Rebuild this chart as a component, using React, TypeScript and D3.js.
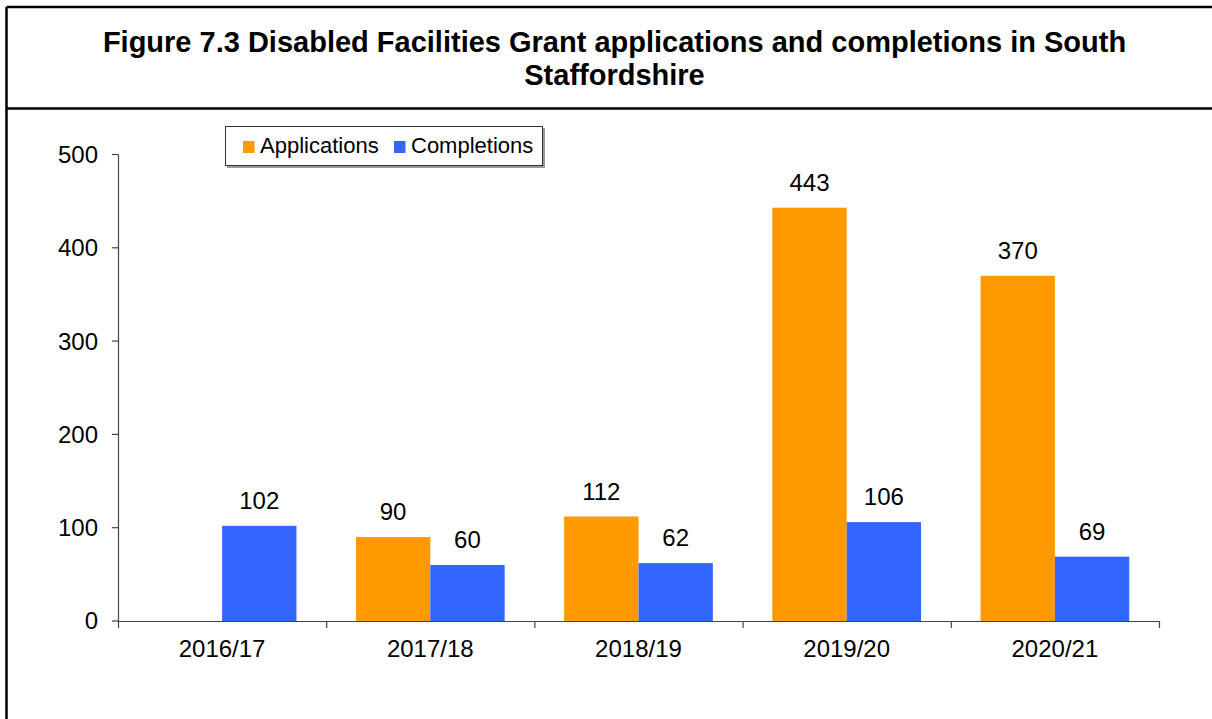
import React from "react";
import * as d3 from "d3";

const categories = ["2016/17", "2017/18", "2018/19", "2019/20", "2020/21"];
const seriesNames = ["Applications", "Completions"];
const applications: (number | null)[] = [null, 90, 112, 443, 370];
const completions: (number | null)[] = [102, 60, 62, 106, 69];
const yTicks = [0, 100, 200, 300, 400, 500];
const colors = ["#FF9900", "#3366FF"];
const titleLines = [
  "Figure 7.3 Disabled Facilities Grant applications and completions in South",
  "Staffordshire",
];

const W = 1212;
const H = 719;
const FONT = "'Liberation Sans', Arial, Helvetica, sans-serif";

export default function App() {
  const x0 = d3.scaleBand<string>().domain(categories).range([118, 1159]).paddingInner(0).paddingOuter(0);
  const x1 = d3.scaleBand<string>().domain(seriesNames).range([0, x0.bandwidth()]).paddingInner(0).paddingOuter(0.4);
  const y = d3.scaleLinear().domain([0, 500]).range([621, 154.5]);
  const values = [applications, completions];
  const axisColor = "#444";
  const boundaries = categories.map((c) => x0(c) as number).concat([x0.range()[1]]);

  return (
    <svg width={W} height={H} style={{ position: "absolute", left: 0, top: 0, background: "#fff" }} fontFamily={FONT}>
      <rect x={0} y={0} width={W} height={H} fill="#fff" />
      {/* outer frame */}
      <line x1={6.5} y1={7} x2={W + 5} y2={7} stroke="#000" strokeWidth={2.5} />
      <line x1={6.5} y1={7} x2={6.5} y2={H + 5} stroke="#000" strokeWidth={2.5} />
      <line x1={6.5} y1={108.5} x2={W + 5} y2={108.5} stroke="#000" strokeWidth={2.5} />
      {/* title */}
      {titleLines.map((t, i) => (
        <text key={i} x={614.5} y={52 + i * 33} textAnchor="middle" fontWeight="bold" fontSize={29} fill="#000">
          {t}
        </text>
      ))}
      {/* legend */}
      <rect x={227} y={128} width={318} height={40} fill="#999" />
      <rect x={225.5} y={126.5} width={317} height={39} fill="#fff" stroke="#333" strokeWidth={1} />
      {seriesNames.map((s, i) => {
        const sx = [243, 394][i];
        return (
          <g key={s}>
            <rect x={sx} y={141} width={11.5} height={12} fill={colors[i]} />
            <text x={sx + 17} y={152.5} fontSize={22} fill="#000">
              {s}
            </text>
          </g>
        );
      })}
      {/* bars */}
      {categories.map((c, ci) => (
        <g key={c} transform={`translate(${x0(c)},0)`}>
          {seriesNames.map((s, si) => {
            const v = values[si][ci];
            if (v == null) return null;
            const bx = x1(s) as number;
            return (
              <g key={s}>
                <rect x={bx} y={y(v)} width={x1.bandwidth()} height={y(0) - y(v)} fill={colors[si]} />
                <text x={bx + x1.bandwidth() / 2} y={y(v) - 17} textAnchor="middle" fontSize={24} fill="#000">
                  {v}
                </text>
              </g>
            );
          })}
        </g>
      ))}
      {/* y axis */}
      <line x1={118.5} y1={y(500)} x2={118.5} y2={y(0)} stroke={axisColor} strokeWidth={1.2} />
      {yTicks.map((t) => (
        <g key={t}>
          <line x1={112} y1={y(t)} x2={118.5} y2={y(t)} stroke={axisColor} strokeWidth={1.2} />
          <text x={98} y={y(t)} dy="0.35em" textAnchor="end" fontSize={24} fill="#000">
            {t}
          </text>
        </g>
      ))}
      {/* x axis */}
      <line x1={118} y1={y(0) + 0.5} x2={1159} y2={y(0) + 0.5} stroke={axisColor} strokeWidth={1.2} />
      {boundaries.map((b, i) => (
        <line key={i} x1={b + 0.5} y1={y(0)} x2={b + 0.5} y2={y(0) + 7} stroke={axisColor} strokeWidth={1.2} />
      ))}
      {categories.map((c) => (
        <text key={c} x={(x0(c) as number) + x0.bandwidth() / 2} y={657} textAnchor="middle" fontSize={24} fill="#000">
          {c}
        </text>
      ))}
    </svg>
  );
}
